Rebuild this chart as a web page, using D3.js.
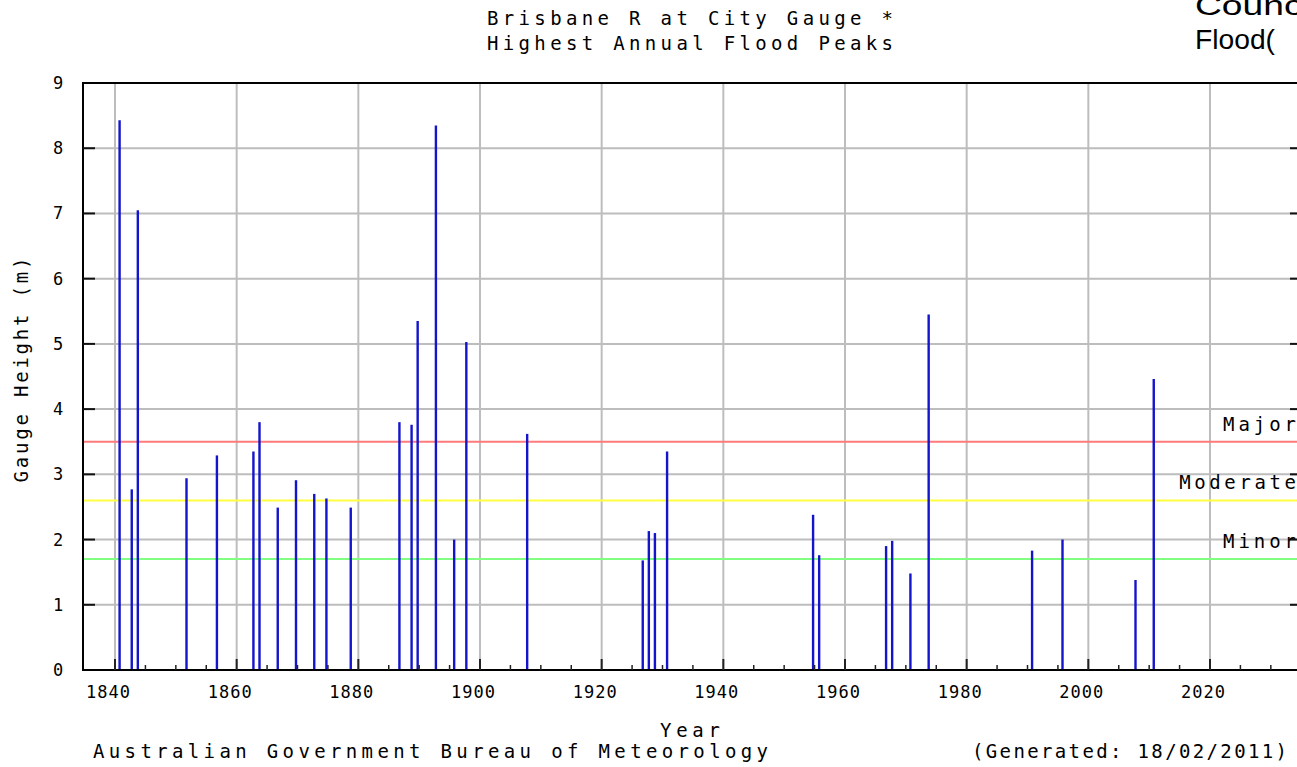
<!DOCTYPE html>
<html>
<head>
<meta charset="utf-8">
<script src="https://cdn.jsdelivr.net/npm/d3@7"></script>
<style>
  body { margin: 0; background: #fff; }
  text { font-family: "DejaVu Sans Mono", monospace; fill: #000; }
</style>
</head>
<body>
<script>
// annual flood peaks, Brisbane River at City gauge
var years = [1841, 1843, 1844, 1852, 1857, 1863, 1864, 1867, 1870, 1873, 1875, 1879,
             1887, 1889, 1890, 1893, 1896, 1898, 1908, 1927, 1928, 1929, 1931,
             1955, 1956, 1967, 1968, 1971, 1974, 1991, 1996, 2008, 2011];
var peaks = [8.43, 2.77, 7.05, 2.94, 3.29, 3.35, 3.80, 2.49, 2.91, 2.70, 2.63, 2.49,
             3.80, 3.76, 5.35, 8.35, 2.00, 5.03, 3.62, 1.68, 2.13, 2.10, 3.35,
             2.38, 1.76, 1.90, 1.98, 1.48, 5.45, 1.83, 2.00, 1.38, 4.46];
var levelNames = ["Minor", "Moderate", "Major"];
var levelValues = [1.7, 2.6, 3.5];
var levelColors = ["#80ff80", "#ffff40", "#ff7a7a"];
var yearTicks = [1840, 1860, 1880, 1900, 1920, 1940, 1960, 1980, 2000, 2020];
var heightTicks = [0, 1, 2, 3, 4, 5, 6, 7, 8, 9];

var W = 1297, H = 767;
var pLeft = 83, pRight = 1302, pTop = 83, pBottom = 670;

var svg = d3.select("body").append("svg").attr("width", W).attr("height", H);

var x = d3.scaleLinear().domain([1840, 2020]).range([115, 1210]);
var y = d3.scaleLinear().domain([0, 9]).range([pBottom, pTop]);

var plot = svg.append("g");

// grid
plot.selectAll("line.vg").data(yearTicks).enter().append("line")
    .attr("x1", d => x(d)).attr("x2", d => x(d))
    .attr("y1", pTop).attr("y2", pBottom)
    .attr("stroke", "#bdbdbd").attr("stroke-width", 2);
plot.selectAll("line.hg").data(heightTicks.slice(1, 9)).enter().append("line")
    .attr("x1", pLeft).attr("x2", pRight)
    .attr("y1", d => y(d)).attr("y2", d => y(d))
    .attr("stroke", "#bdbdbd").attr("stroke-width", 2);

// flood class lines
plot.selectAll("line.lvl").data(levelValues).enter().append("line")
    .attr("x1", pLeft).attr("x2", pRight)
    .attr("y1", d => y(d)).attr("y2", d => y(d))
    .attr("stroke", (d, i) => levelColors[i]).attr("stroke-width", 2);

// peaks
plot.selectAll("line.bar").data(years).enter().append("line")
    .attr("x1", d => x(d) - 1.5).attr("x2", d => x(d) - 1.5)
    .attr("y1", y(0)).attr("y2", (d, i) => y(peaks[i]))
    .attr("stroke", "#1414cc").attr("stroke-width", 2.4);

// frame
plot.append("path")
    .attr("d", "M" + pRight + "," + pTop + "H" + pLeft + "V" + pBottom + "H" + pRight)
    .attr("fill", "none").attr("stroke", "#000").attr("stroke-width", 2);

// ticks
var minorYears = d3.range(1840, 2036, 5);
plot.selectAll("line.xt").data(minorYears).enter().append("line")
    .attr("x1", d => x(d)).attr("x2", d => x(d))
    .attr("y1", pBottom).attr("y2", d => d % 20 === 0 ? pBottom - 11 : pBottom - 5)
    .attr("stroke", "#222").attr("stroke-width", d => d % 20 === 0 ? 2 : 1.5);
plot.selectAll("line.ytl").data(heightTicks.slice(1, 9)).enter().append("line")
    .attr("x1", pLeft).attr("x2", pLeft + 12)
    .attr("y1", d => y(d)).attr("y2", d => y(d))
    .attr("stroke", "#111").attr("stroke-width", 2);
plot.selectAll("line.ytr").data(heightTicks.slice(1, 9)).enter().append("line")
    .attr("x1", pRight - 12).attr("x2", pRight)
    .attr("y1", d => y(d)).attr("y2", d => y(d))
    .attr("stroke", "#111").attr("stroke-width", 2);

// tick labels
svg.selectAll("text.xl").data(yearTicks).enter().append("text")
    .attr("x", d => x(d) - 7).attr("y", 698)
    .attr("text-anchor", "middle").attr("font-size", 17)
    .attr("textLength", 44).attr("lengthAdjust", "spacing")
    .text(d => d);
svg.selectAll("text.yl").data(heightTicks).enter().append("text")
    .attr("x", 58).attr("y", d => y(d) + 6)
    .attr("text-anchor", "middle").attr("font-size", 17)
    .text(d => d);

// level labels
svg.selectAll("text.lv").data(levelNames).enter().append("text")
    .attr("x", 1296).attr("y", (d, i) => y(levelValues[i]) - 11)
    .attr("text-anchor", "end").attr("font-size", 19)
    .attr("textLength", d => d.length * 14.6).attr("lengthAdjust", "spacing")
    .text(d => d);

// titles
svg.append("text").attr("x", 690).attr("y", 25).attr("text-anchor", "middle")
    .attr("font-size", 19).attr("textLength", 406).attr("lengthAdjust", "spacing")
    .text("Brisbane R at City Gauge *");
svg.append("text").attr("x", 690).attr("y", 50).attr("text-anchor", "middle")
    .attr("font-size", 19).attr("textLength", 406).attr("lengthAdjust", "spacing")
    .text("Highest Annual Flood Peaks");
svg.append("text").attr("x", 690).attr("y", 737).attr("text-anchor", "middle")
    .attr("font-size", 19).attr("textLength", 60).attr("lengthAdjust", "spacing")
    .text("Year");
svg.append("text").attr("x", 93).attr("y", 758)
    .attr("font-size", 19).attr("textLength", 675).attr("lengthAdjust", "spacing")
    .text("Australian Government Bureau of Meteorology");
svg.append("text").attr("x", 972).attr("y", 758)
    .attr("font-size", 19).attr("textLength", 315).attr("lengthAdjust", "spacing")
    .text("(Generated: 18/02/2011)");
svg.append("text").attr("transform", "translate(28,370) rotate(-90)")
    .attr("text-anchor", "middle").attr("font-size", 19)
    .attr("textLength", 225).attr("lengthAdjust", "spacing")
    .text("Gauge Height (m)");

// overlapping caption from page, top right
svg.append("text").attr("x", 1195).attr("y", 15)
    .style("font-family", "'Liberation Sans', Arial, sans-serif").attr("font-size", 28)
    .attr("textLength", 124).attr("lengthAdjust", "spacingAndGlyphs")
    .text("Council");
svg.append("text").attr("x", 1195).attr("y", 49)
    .style("font-family", "'Liberation Sans', Arial, sans-serif").attr("font-size", 28)
    .attr("textLength", 80).attr("lengthAdjust", "spacingAndGlyphs")
    .text("Flood(");
</script>
</body>
</html>
